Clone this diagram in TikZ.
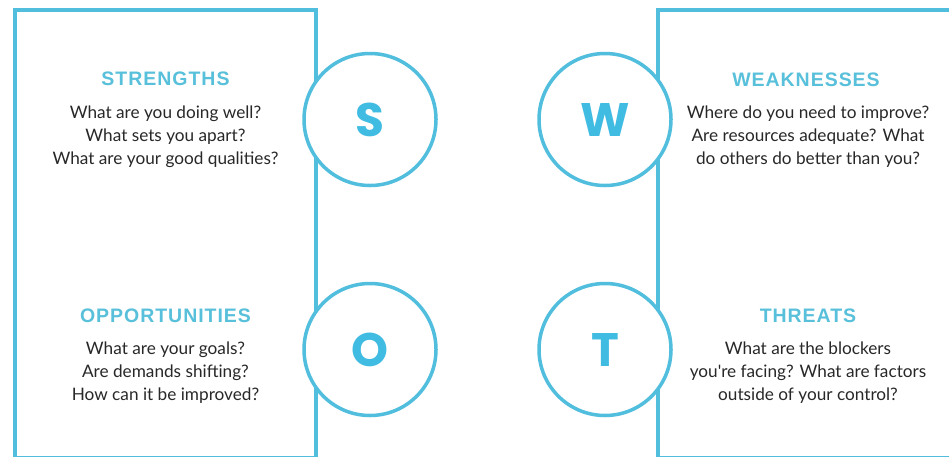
\documentclass[tikz,border=0pt]{standalone}
\usepackage{fontspec}
\setmainfont{Lato}
\newfontfamily\bodyfont{Lato}
\newfontfamily\headfont[LetterSpace=5]{Liberation Sans}
\newfontfamily\letterfont{Poppins}
\definecolor{swotcyan}{RGB}{82,190,221}
\definecolor{lettercyan}{RGB}{64,187,226}
\definecolor{headcyan}{RGB}{88,192,218}
\definecolor{bodygray}{RGB}{40,40,40}
\tikzset{
  boxline/.style={draw=swotcyan, line width=3.5pt},
  ring/.style={circle, draw=swotcyan, line width=3.5pt, fill=white, minimum size=132pt, inner sep=0pt,
     font=\letterfont\fontsize{47}{47}\selectfont\bfseries, text=lettercyan},
  heading/.style={anchor=base, font=\headfont\fontsize{19.5}{20}\selectfont\bfseries, text=headcyan},
  bodytext/.style={anchor=base, align=center, font=\bodyfont\fontsize{17.2}{23}\selectfont, text=bodygray},
}
\begin{document}
\begin{tikzpicture}[x=1pt,y=-1pt]
\useasboundingbox (0,0) rectangle (949,456);
\fill[white] (0,0) rectangle (949,456);
\begin{scope}
  \clip (0,0) rectangle (949,456);
  \draw[boxline] (15,10) rectangle (316,458);
  \draw[boxline] (658,10) rectangle (1000,458);
\end{scope}
\node[ring] (S) at (370,119.5) {S};
\node[ring] (W) at (605,119.5) {W};
\node[ring] (O) at (370,349.5) {O};
\node[ring] (T) at (605,349.5) {T};
\node[heading] (hs) at (165.5,85) {STRENGTHS};
\node[bodytext] (bs) at (165.5,164) {What are you doing well?\\What sets you apart?\\What are your good qualities?};
\node[heading] (hw) at (806,86) {WEAKNESSES};
\node[bodytext] (bw) at (808,164) {Where do you need to improve?\\Are resources adequate? What\\do others do better than you?};
\node[heading] (ho) at (165.5,322) {OPPORTUNITIES};
\node[bodytext] (bo) at (165.5,400) {What are your goals?\\Are demands shifting?\\How can it be improved?};
\node[heading] (ht) at (808,322) {THREATS};
\node[bodytext] (bt) at (808,400) {What are the blockers\\you're facing? What are factors\\outside of your control?};
\end{tikzpicture}
\end{document}
